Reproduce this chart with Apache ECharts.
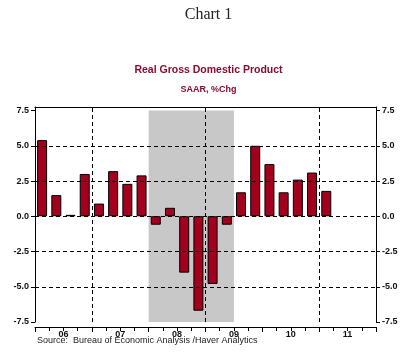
<!DOCTYPE html>
<html>
<head>
<meta charset="utf-8">
<script src="https://cdn.jsdelivr.net/npm/echarts@6/dist/echarts.min.js"></script>
<style>
  html, body { margin: 0; padding: 0; background: #fff; }
  #chart { width: 417px; height: 352px; }
</style>
</head>
<body>
<div id="chart"></div>
<script>
const quarters = [
  '2006Q1', '2006Q2', '2006Q3', '2006Q4',
  '2007Q1', '2007Q2', '2007Q3', '2007Q4',
  '2008Q1', '2008Q2', '2008Q3', '2008Q4',
  '2009Q1', '2009Q2', '2009Q3', '2009Q4',
  '2010Q1', '2010Q2', '2010Q3', '2010Q4',
  '2011Q1'
]
const gdpGrowth = [
  5.4, 1.5, 0.1, 3.0,
  0.9, 3.2, 2.3, 2.9,
  -0.6, 0.6, -4.0, -6.7,
  -4.8, -0.6, 1.7, 5.0,
  3.7, 1.7, 2.6, 3.1,
  1.8
]
const yTicks = [-7.5, -5.0, -2.5, 0, 2.5, 5.0, 7.5]
const yGridLines = [-5.0, -2.5, 0, 2.5, 5.0]
const yearGridLines = [2007, 2009, 2011]
const yearLabels = ['06', '07', '08', '09', '10', '11']
const recession = ['2008Q1', '2009Q2']

const firstYear = 2006
const lastYear = 2012

// '2008Q3' -> start of that quarter as a decimal year
const qStart = (q) => Number(q.slice(0, 4)) + (Number(q.slice(5)) - 1) / 4
const qMid = (q) => qStart(q) + 0.125
const qEnd = (q) => qStart(q) + 0.25

const barData = quarters.map((q, i) => [qMid(q), gdpGrowth[i]])
const labelPos = yearLabels.map((y, i) => firstYear + i + 0.5)

const chart = echarts.init(document.getElementById('chart'))

const tickFont = {
  fontFamily: 'Liberation Sans',
  fontSize: 9,
  fontWeight: 'bold',
  color: '#111'
}
const black = { color: '#000', width: 1 }

chart.setOption({
  animation: false,
  title: [
    {
      text: 'Chart 1',
      left: 'center',
      top: 2,
      textStyle: { fontFamily: 'Liberation Serif', fontSize: 16, fontWeight: 'normal', color: '#222' }
    },
    {
      text: 'Real Gross Domestic Product',
      left: 'center',
      top: 60,
      textStyle: { fontFamily: 'Liberation Sans', fontSize: 10.5, fontWeight: 'bold', color: '#8c0c2c' }
    },
    {
      text: 'SAAR, %Chg',
      left: 'center',
      top: 80,
      textStyle: { fontFamily: 'Liberation Sans', fontSize: 9, fontWeight: 'bold', color: '#8c0c2c' }
    },
    {
      text: 'Source:  Bureau of Economic Analysis /Haver Analytics',
      left: 32,
      top: 331,
      textStyle: { fontFamily: 'Liberation Sans', fontSize: 9, fontWeight: 'normal', color: '#222' }
    }
  ],
  grid: {
    left: 35,
    right: 41,
    top: 107,
    bottom: 30
  },
  xAxis: [
    {
      type: 'value',
      position: 'bottom',
      offset: 5,
      min: firstYear,
      max: lastYear,
      interval: 1,
      axisLine: { show: true, onZero: false, lineStyle: black },
      axisTick: { show: true, length: 5, lineStyle: black },
      minorTick: { show: true, splitNumber: 4, length: 4, lineStyle: black },
      axisLabel: {
        customValues: labelPos,
        margin: 3,
        formatter: (v) => yearLabels[Math.floor(v) - firstYear],
        ...tickFont
      },
      splitLine: { show: false }
    },
    {
      type: 'value',
      position: 'top',
      min: firstYear,
      max: lastYear,
      axisLine: { show: true, onZero: false, lineStyle: black },
      axisTick: { show: true, inside: true, length: 3, customValues: yearGridLines, lineStyle: black },
      axisLabel: { show: false },
      splitLine: { show: false }
    }
  ],
  yAxis: [0, 1].map(i => ({
    type: 'value',
    position: i === 0 ? 'left' : 'right',
    min: -7.5,
    max: 7.75,
    axisLine: { show: true, onZero: false, lineStyle: black },
    axisTick: { show: true, length: 4, customValues: yTicks, lineStyle: black },
    axisLabel: {
      customValues: yTicks,
      margin: 6,
      formatter: (v) => v.toFixed(1),
      ...tickFont
    },
    splitLine: { show: false }
  })),
  series: [
    {
      // recession shading
      type: 'line',
      data: [],
      z: 1,
      silent: true,
      markArea: {
        silent: true,
        itemStyle: { color: '#c8c8c8' },
        data: [[
          { xAxis: qStart(recession[0]), yAxis: -7.5 },
          { xAxis: qEnd(recession[1]), yAxis: 7.5 }
        ]]
      }
    },
    {
      // dashed grid
      type: 'line',
      data: [],
      z: 2,
      silent: true,
      markLine: {
        silent: true,
        symbol: 'none',
        label: { show: false },
        lineStyle: { color: '#000', width: 1, type: [4, 3] },
        data: [
          ...yGridLines.map(v => ({ yAxis: v })),
          ...yearGridLines.map(v => ({ xAxis: v }))
        ]
      }
    },
    {
      type: 'bar',
      name: 'Real GDP',
      z: 3,
      data: barData,
      barWidth: 10,
      itemStyle: {
        color: '#a3001e',
        borderColor: '#000',
        borderWidth: 1
      }
    }
  ]
})
</script>
</body>
</html>
